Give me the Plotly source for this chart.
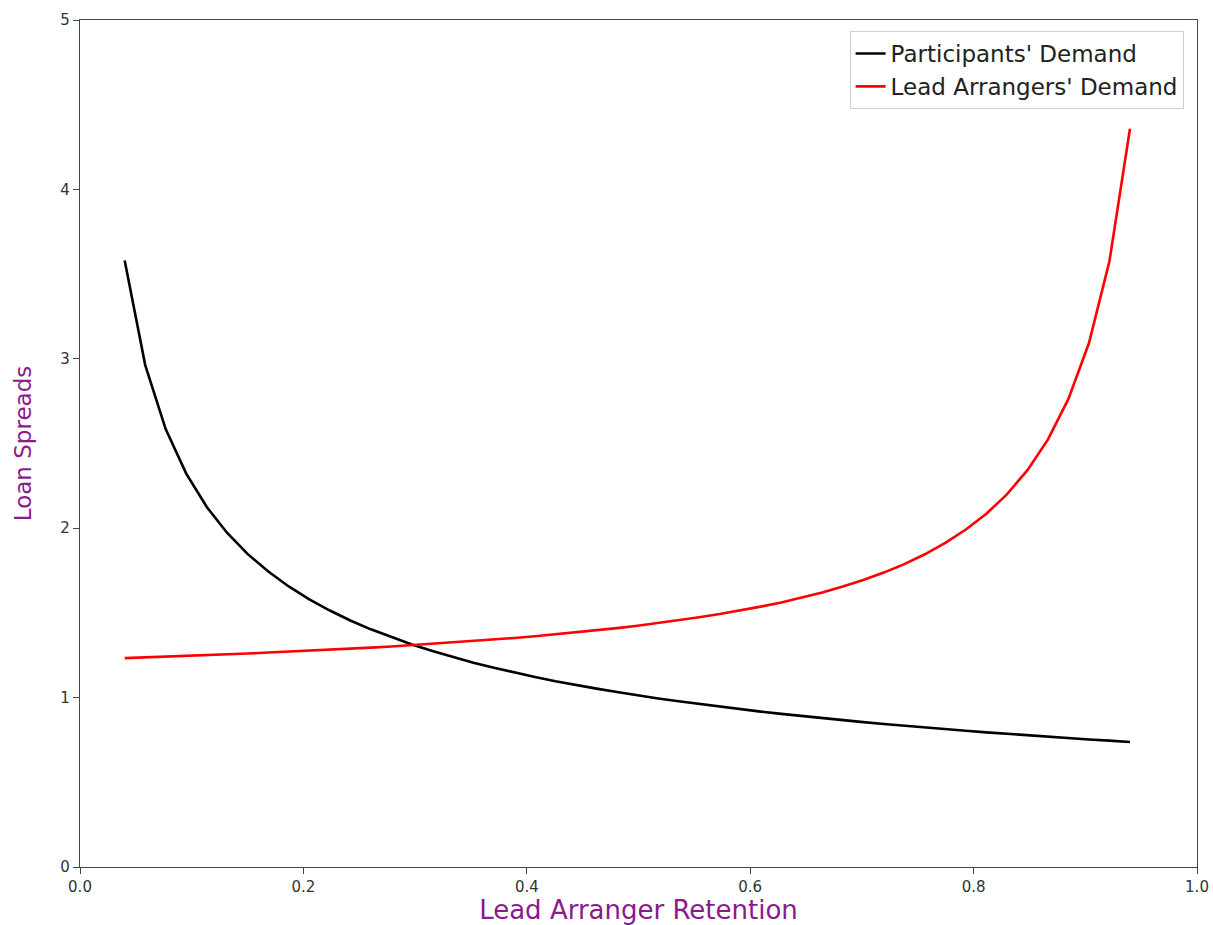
import plotly.graph_objects as go

# Lead arranger retention (x) values
retention = [0.0400, 0.0584, 0.0767, 0.0951, 0.1135, 0.1318, 0.1502, 0.1686, 0.1869, 0.2053,
             0.2237, 0.2420, 0.2604, 0.2788, 0.2971, 0.3155, 0.3339, 0.3522, 0.3706, 0.3890,
             0.4073, 0.4257, 0.4441, 0.4624, 0.4808, 0.4992, 0.5176, 0.5359, 0.5543, 0.5727,
             0.5910, 0.6094, 0.6278, 0.6461, 0.6645, 0.6829, 0.7012, 0.7196, 0.7380, 0.7563,
             0.7747, 0.7931, 0.8114, 0.8298, 0.8482, 0.8665, 0.8849, 0.9033, 0.9216, 0.9400]

# Participants' demand (loan spreads)
participants = [3.580, 2.963, 2.585, 2.322, 2.125, 1.972, 1.847, 1.744, 1.656, 1.580,
                1.514, 1.455, 1.403, 1.356, 1.314, 1.275, 1.239, 1.206, 1.176, 1.148,
                1.122, 1.097, 1.074, 1.053, 1.033, 1.013, 0.995, 0.978, 0.962, 0.946,
                0.931, 0.917, 0.904, 0.891, 0.878, 0.866, 0.855, 0.844, 0.833, 0.823,
                0.813, 0.804, 0.795, 0.786, 0.777, 0.769, 0.761, 0.753, 0.746, 0.738]

# Lead arrangers' demand (loan spreads)
lead_arrangers = [1.233, 1.237, 1.242, 1.246, 1.251, 1.255, 1.260, 1.266, 1.271, 1.277,
                  1.283, 1.289, 1.295, 1.302, 1.310, 1.317, 1.325, 1.334, 1.343, 1.352,
                  1.362, 1.373, 1.385, 1.397, 1.410, 1.424, 1.440, 1.456, 1.474, 1.493,
                  1.514, 1.537, 1.562, 1.590, 1.621, 1.656, 1.694, 1.738, 1.788, 1.846,
                  1.913, 1.992, 2.085, 2.200, 2.343, 2.523, 2.763, 3.093, 3.576, 4.358]

series_names = ["Participants' Demand", "Lead Arrangers' Demand"]
x_ticks = [0.0, 0.2, 0.4, 0.6, 0.8, 1.0]
y_ticks = [0, 1, 2, 3, 4, 5]

fig = go.Figure()
fig.add_trace(go.Scatter(x=retention, y=participants, mode="lines", name=series_names[0],
                         line=dict(color="black", width=2.6)))
fig.add_trace(go.Scatter(x=retention, y=lead_arrangers, mode="lines", name=series_names[1],
                         line=dict(color="red", width=2.6)))

axis_common = dict(showgrid=False, zeroline=False, showline=True, linecolor="#444",
                   linewidth=1.2, mirror=True, ticks="outside", ticklen=6, tickwidth=1.2,
                   tickcolor="#444", tickfont=dict(family="DejaVu Sans", size=15, color="#333"),
                   automargin=False)

fig.update_xaxes(range=[0, 1], tickvals=x_ticks, tickformat=".1f",
                 title=dict(text="Lead Arranger Retention",
                            font=dict(family="DejaVu Sans", size=26, color="#8b1a8b"),
                            standoff=4),
                 **axis_common)
fig.update_yaxes(range=[0, 5], tickvals=y_ticks,
                 title=dict(text="Loan Spreads",
                            font=dict(family="DejaVu Sans", size=23, color="#8b1a8b"),
                            standoff=22),
                 **axis_common)

fig.update_layout(
    width=1213, height=925,
    margin=dict(l=80, r=16, t=20, b=58),
    plot_bgcolor="white", paper_bgcolor="white",
    legend=dict(x=0.988, y=0.987, xanchor="right", yanchor="top",
                bgcolor="white", bordercolor="#d0d0d0", borderwidth=1,
                font=dict(family="DejaVu Sans", size=23, color="#222")),
    showlegend=True,
)

fig.write_html("out.html",
               config={"displayModeBar": False},
               post_script="document.body.style.margin='0';document.body.style.overflow='hidden';")
